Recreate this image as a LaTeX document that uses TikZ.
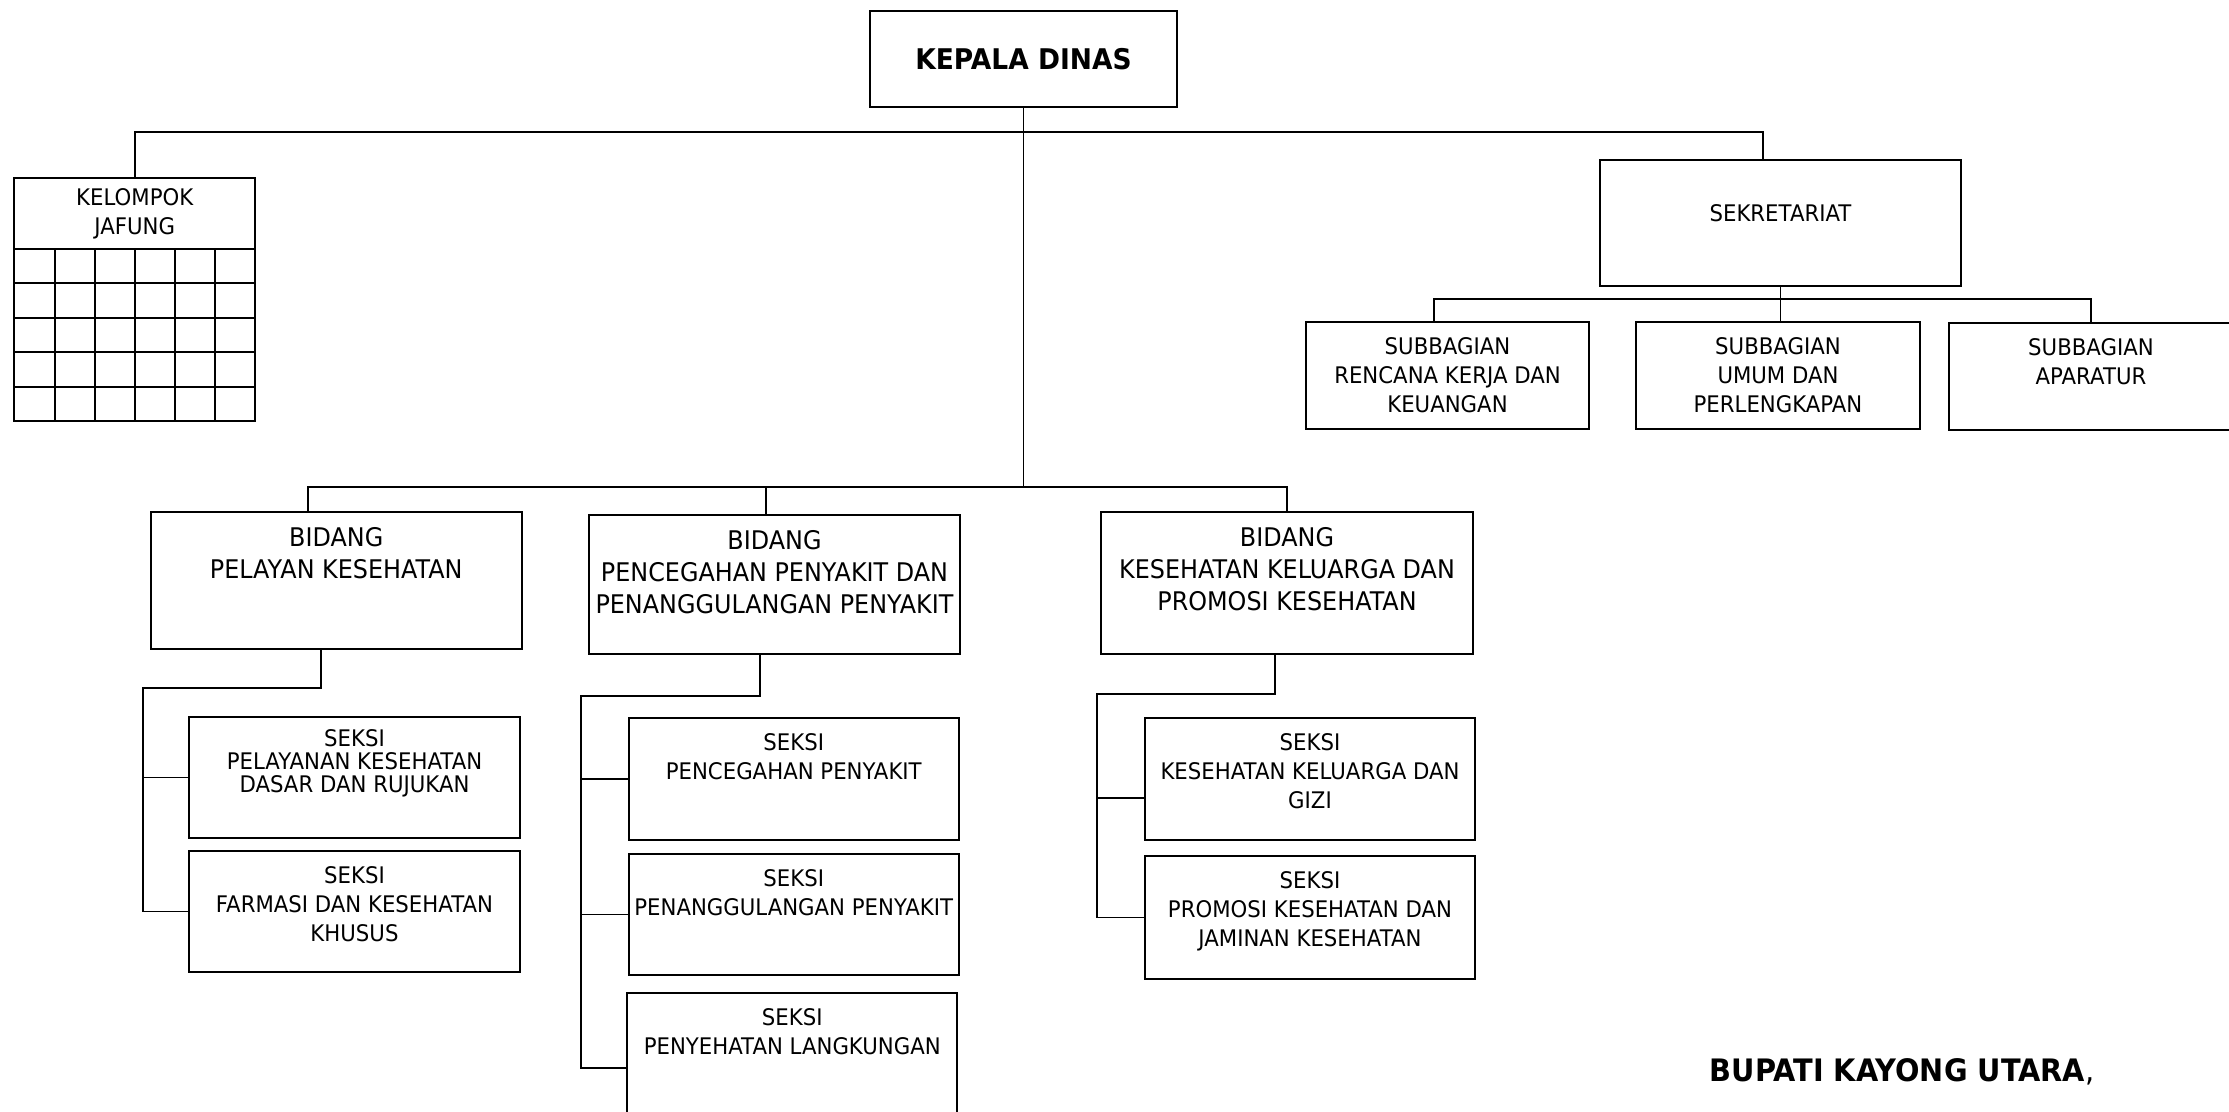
\documentclass[tikz,border=0pt]{standalone}
\usepackage{fontspec}
\setmainfont{DejaVu Sans}[FakeStretch=0.93]
\usetikzlibrary{matrix,positioning}
\newcommand{\pxunit}{0.01cm}
\newcommand{\seksifont}{\fontsize{6.5}{8.2}\selectfont}
\newcommand{\bidfont}{\fontsize{7.3}{9.1}\selectfont}
\newcommand{\kepfont}{\fontsize{8.1}{9.5}\selectfont\bfseries}
\tikzset{
    boxsty/.style={draw,rectangle,line width=0.55pt,inner sep=0pt,anchor=center},
    cellsty/.style={draw,rectangle,line width=0.55pt,inner sep=0pt,minimum width=0.4008cm,minimum height=0.344cm,anchor=center},
    txtsty/.style={anchor=north,align=center,inner sep=0pt,yshift=-0.16cm,font=\seksifont},
    bidtxtsty/.style={txtsty,font=\bidfont},
    substy/.style={boxsty,minimum width=2.83cm,minimum height=1.07cm},
    bidsty/.style={boxsty,minimum width=3.71cm,minimum height=1.39cm},
    seksisty/.style={boxsty,minimum width=3.30cm,minimum height=1.21cm},
    linksty/.style={line width=0.5pt},
    bussty/.style={line width=0.6pt},
}

\begin{document}
\begin{tikzpicture}[x=\pxunit,y=-\pxunit]
\useasboundingbox (0,0) rectangle (2229,1112);

\node[boxsty,minimum width=3.07cm,minimum height=0.96cm,font=\kepfont] (kepala) at (1023.5,59) {KEPALA DINAS};

\node[boxsty,minimum width=2.405cm,minimum height=0.71cm,align=center,font=\seksifont] (jafhead) at (134.75,213.5) {KELOMPOK\\JAFUNG};
\matrix (jafgrid) [matrix of nodes, nodes in empty cells,
  nodes = {cellsty},
  column sep=-0.55pt, row sep=-0.55pt,
  inner sep=0pt, outer sep=0pt,
  below=-0.55pt of jafhead,
  ampersand replacement=\&]
{
 \& \& \& \& \& \\
 \& \& \& \& \& \\
 \& \& \& \& \& \\
 \& \& \& \& \& \\
 \& \& \& \& \& \\
};

\node[boxsty,minimum width=3.61cm,minimum height=1.26cm,label={[txtsty,yshift=-0.29cm]north:SEKRETARIAT}] (sekre) at (1780.5,223) {};
\node[substy,label={[txtsty]north:{SUBBAGIAN\\RENCANA KERJA DAN\\KEUANGAN}}] (subren) at (1447.5,375.5) {};
\node[substy,label={[txtsty]north:{SUBBAGIAN\\UMUM DAN\\PERLENGKAPAN}}] (subumum) at (1778,375.5) {};
\node[substy,label={[txtsty]north:{SUBBAGIAN\\APARATUR}}] (subapa) at (2091,376.5) {};

\node[bidsty,minimum height=1.37cm,label={[bidtxtsty]north:{BIDANG\\PELAYAN KESEHATAN}}] (bidpel) at (336.25,580.5) {};
\node[bidsty,label={[bidtxtsty]north:{BIDANG\\PENCEGAHAN PENYAKIT DAN\\PENANGGULANGAN PENYAKIT}}] (bidpp) at (774.5,584.5) {};
\node[bidsty,minimum width=3.72cm,minimum height=1.42cm,label={[bidtxtsty]north:{BIDANG\\KESEHATAN KELUARGA DAN\\PROMOSI KESEHATAN}}] (bidkes) at (1287,583) {};

\node[seksisty,minimum width=3.31cm,label={[txtsty,yshift=0.03cm]north:{SEKSI\\[-1.7pt]PELAYANAN KESEHATAN\\[-1.7pt]DASAR DAN RUJUKAN}}] (seklay) at (354.5,777.5) {};
\node[seksisty,minimum width=3.31cm,label={[txtsty]north:{SEKSI\\FARMASI DAN KESEHATAN\\KHUSUS}}] (sekfar) at (354.5,911.5) {};
\node[seksisty,minimum width=3.295cm,minimum height=1.22cm,label={[txtsty]north:{SEKSI\\PENCEGAHAN PENYAKIT}}] (sekcgh) at (793.75,779) {};
\node[seksisty,minimum width=3.295cm,label={[txtsty]north:{SEKSI\\PENANGGULANGAN PENYAKIT}}] (sektgl) at (793.75,914.5) {};
\node[seksisty,minimum width=3.295cm,label={[txtsty]north:{SEKSI\\PENYEHATAN LANGKUNGAN}}] (sekling) at (792.25,1053.5) {};
\node[seksisty,minimum height=1.22cm,label={[txtsty]north:{SEKSI\\KESEHATAN KELUARGA DAN\\GIZI}}] (sekkel) at (1310,779) {};
\node[seksisty,minimum height=1.23cm,label={[txtsty]north:{SEKSI\\PROMOSI KESEHATAN DAN\\JAMINAN KESEHATAN}}] (sekprom) at (1310,917.5) {};

\node[anchor=base west,inner sep=0pt,font=\fontsize{8.8}{10}\selectfont] (bupati) at (1709,1081) {\textbf{BUPATI KAYONG UTARA},};

\coordinate (topbus) at (1023,132);
\coordinate (midbus) at (1023,487);
\draw[bussty] (jafhead.north) |- (topbus) -| ([xshift=-0.175cm]sekre.north);
\draw[linksty] (kepala.south) -- (kepala.south |- midbus);
\draw[linksty] ([xshift=-0.28cm]bidpel.north) |- (midbus) -| (bidkes.north);
\coordinate (ppdrop) at ([xshift=-0.085cm]bidpp.north);
\draw[linksty] (ppdrop) -- (ppdrop |- midbus);

\coordinate (subbus) at (1779,299);
\coordinate (rendrop) at ([xshift=-0.135cm]subren.north);
\draw[linksty] (sekre.south) -- (sekre.south |- subumum.north);
\draw[bussty] (rendrop) |- (subbus) -| (subapa.north);

\coordinate (spine1) at (143,688);
\draw[linksty] ([xshift=-0.15cm]bidpel.south) |- (spine1) |- (sekfar.west);
\draw[linksty] (spine1 |- seklay.west) -- (seklay.west);

\coordinate (spine2) at (581,696);
\coordinate (lingbr) at ([yshift=-0.145cm]sekling.west);
\draw[linksty] ([xshift=-0.145cm]bidpp.south) |- (spine2) |- (lingbr);
\draw[linksty] (spine2 |- sekcgh.west) -- (sekcgh.west);
\draw[linksty] (spine2 |- sektgl.west) -- (sektgl.west);

\coordinate (spine3) at (1097,694);
\coordinate (kelbr) at ([yshift=-0.19cm]sekkel.west);
\draw[linksty] ([xshift=-0.12cm]bidkes.south) |- (spine3) |- (sekprom.west);
\draw[linksty] (spine3 |- kelbr) -- (kelbr);
\end{tikzpicture}
\end{document}
